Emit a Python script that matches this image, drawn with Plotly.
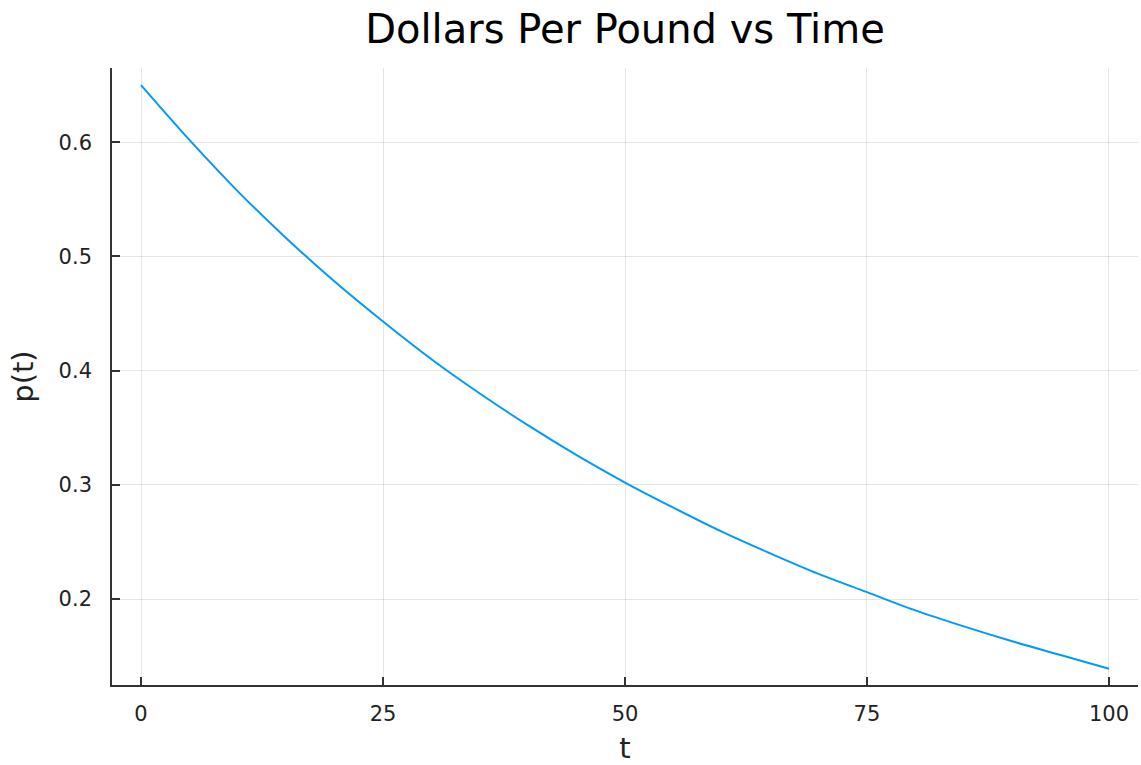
import plotly.graph_objects as go

t_values = [0, 5, 10, 15, 20, 25, 30, 35, 40, 45, 50, 55, 60, 65, 70, 75, 80, 85, 90, 95, 100]
p_values = [0.650, 0.602, 0.557, 0.516, 0.478, 0.443, 0.410, 0.380, 0.352, 0.326, 0.302,
            0.280, 0.259, 0.240, 0.222, 0.206, 0.190, 0.176, 0.163, 0.151, 0.139]
x_ticks = [0, 25, 50, 75, 100]
y_ticks = [0.2, 0.3, 0.4, 0.5, 0.6]

fig = go.Figure()
fig.add_trace(go.Scatter(x=t_values, y=p_values, mode="lines", line_shape="spline",
                         line=dict(color="#009AFA", width=2), showlegend=False))

font = "DejaVu Sans"
fig.update_layout(
    width=1141, height=765,
    paper_bgcolor="white", plot_bgcolor="white",
    margin=dict(l=112, r=3, t=68, b=70),
    title=dict(text="Dollars Per Pound vs Time", x=0.5, xanchor="center", xref="paper",
               y=0.962, yanchor="middle", font=dict(family=font, size=40, color="black")),
    font=dict(family=font, color="#222"),
)
fig.update_xaxes(range=[-3.0, 103.0], tickvals=x_ticks, ticktext=[str(v) for v in x_ticks],
                 showgrid=True, gridcolor="rgba(0,0,0,0.1)", gridwidth=1, zeroline=False,
                 showline=True, linecolor="#333", linewidth=1.6, mirror=False,
                 ticks="inside", ticklen=8, tickwidth=1.5, tickcolor="#333",
                 ticklabelstandoff=9,
                 tickfont=dict(family=font, size=21, color="#222"),
                 title=dict(text="t", font=dict(family=font, size=29, color="#222"), standoff=16))
fig.update_yaxes(range=[0.1247, 0.665], tickvals=y_ticks, ticktext=[str(v) for v in y_ticks],
                 showgrid=True, gridcolor="rgba(0,0,0,0.1)", gridwidth=1, zeroline=False,
                 showline=True, linecolor="#333", linewidth=1.6, mirror=False,
                 ticks="inside", ticklen=8, tickwidth=1.5, tickcolor="#333",
                 ticklabelstandoff=14,
                 tickfont=dict(family=font, size=21, color="#222"),
                 title=dict(text="p(t)", font=dict(family=font, size=29, color="#222"), standoff=16))

fig.write_html("out.html", config={"displayModeBar": False},
               post_script="document.body.style.margin='0px';")
